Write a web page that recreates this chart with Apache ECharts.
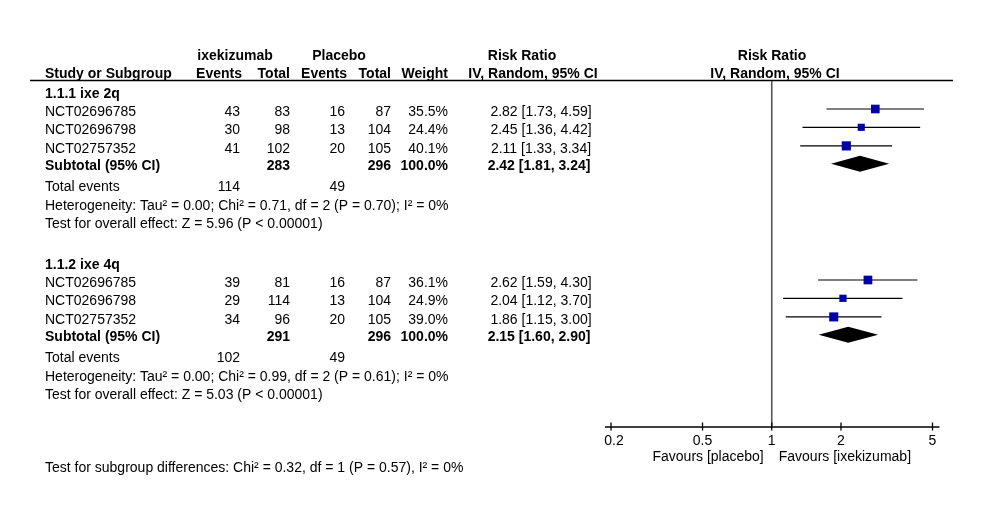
<!DOCTYPE html>
<html>
<head>
<meta charset="utf-8">
<script src="https://cdn.jsdelivr.net/npm/echarts@6/dist/echarts.min.js"></script>
<style>html,body{margin:0;padding:0;background:#fff;}#c{width:986px;height:523px;}</style>
</head>
<body>
<div id="c"></div>
<script>
// ---- data ----
const groupNames = ['1.1.1 ixe 2q', '1.1.2 ixe 4q'];
const studies = ['NCT02696785', 'NCT02696798', 'NCT02757352'];
const ixeEvents = [[43, 30, 41], [39, 29, 34]];
const ixeTotal = [[83, 98, 102], [81, 114, 96]];
const plcEvents = [[16, 13, 20], [16, 13, 20]];
const plcTotal = [[87, 104, 105], [87, 104, 105]];
const weights = [[35.5, 24.4, 40.1], [36.1, 24.9, 39.0]];
const rr = [[2.82, 2.45, 2.11], [2.62, 2.04, 1.86]];
const rrLo = [[1.73, 1.36, 1.33], [1.59, 1.12, 1.15]];
const rrHi = [[4.59, 4.42, 3.34], [4.30, 3.70, 3.00]];
const subIxeTotal = [283, 291];
const subPlcTotal = [296, 296];
const subRR = [2.42, 2.15];
const subLo = [1.81, 1.60];
const subHi = [3.24, 2.90];
const totIxeEvents = [114, 102];
const totPlcEvents = [49, 49];
const heterogeneity = [
  'Heterogeneity: Tau² = 0.00; Chi² = 0.71, df = 2 (P = 0.70); I² = 0%',
  'Heterogeneity: Tau² = 0.00; Chi² = 0.99, df = 2 (P = 0.61); I² = 0%'
];
const overallEffect = [
  'Test for overall effect: Z = 5.96 (P < 0.00001)',
  'Test for overall effect: Z = 5.03 (P < 0.00001)'
];
const subgroupTest = 'Test for subgroup differences: Chi² = 0.32, df = 1 (P = 0.57), I² = 0%';
const tickValues = [0.2, 0.5, 1, 2, 5];
const tickLabels = ['0.2', '0.5', '1', '2', '5'];
const favoursLeft = 'Favours [placebo]';
const favoursRight = 'Favours [ixekizumab]';

// ---- layout (pixels) ----
const FONT = '"Liberation Sans", Arial, sans-serif';
const groupTop = [92.5, 263.5];
const rowOffsets = [18.5, 36.8, 55.4];
const subOff = 72.8, totOff = 93.6, hetOff = 112.4, testOff = 130.8;
const markShift = -2;
const textDy = 1.2;
const colX = {study: 45, ixeEv: 240, ixeTot: 290, plcEv: 345, plcTot: 391, weight: 448, rrCenter: 541};
const axisY = 427;

function fmtW(w) { return w.toFixed(1) + '%'; }
function fmtRR(a, b, c) { return a.toFixed(2) + ' [' + b.toFixed(2) + ', ' + c.toFixed(2) + ']'; }

const texts = [];
function T(str, x, y, align, bold) {
  texts.push({
    type: 'text', silent: true,
    style: {
      text: String(str), x: x, y: y + textDy,
      textAlign: align || 'left', textVerticalAlign: 'middle',
      font: (bold ? 'bold ' : '') + '14px ' + FONT, fill: '#000'
    }
  });
}

// headers
T('ixekizumab', 235, 55, 'center', true);
T('Placebo', 339, 55, 'center', true);
T('Risk Ratio', 522, 55, 'center', true);
T('Risk Ratio', 772, 55, 'center', true);
T('Study or Subgroup', colX.study, 73, 'left', true);
T('Events', 242, 73, 'right', true);
T('Total', 290, 73, 'right', true);
T('Events', 347, 73, 'right', true);
T('Total', 391, 73, 'right', true);
T('Weight', 448, 73, 'right', true);
T('IV, Random, 95% CI', 533, 73, 'center', true);
T('IV, Random, 95% CI', 775, 73, 'center', true);

const studyData = [];
const subData = [];
for (let g = 0; g < groupNames.length; g++) {
  const top = groupTop[g];
  T(groupNames[g], colX.study, top, 'left', true);
  for (let i = 0; i < studies.length; i++) {
    const y = top + rowOffsets[i];
    T(studies[i], colX.study, y, 'left');
    T(ixeEvents[g][i], colX.ixeEv, y, 'right');
    T(ixeTotal[g][i], colX.ixeTot, y, 'right');
    T(plcEvents[g][i], colX.plcEv, y, 'right');
    T(plcTotal[g][i], colX.plcTot, y, 'right');
    T(fmtW(weights[g][i]), colX.weight, y, 'right');
    T(fmtRR(rr[g][i], rrLo[g][i], rrHi[g][i]), colX.rrCenter, y, 'center');
    studyData.push([rr[g][i], rrLo[g][i], rrHi[g][i], y + markShift, weights[g][i]]);
  }
  const ys = top + subOff;
  T('Subtotal (95% CI)', colX.study, ys, 'left', true);
  T(subIxeTotal[g], colX.ixeTot, ys, 'right', true);
  T(subPlcTotal[g], colX.plcTot, ys, 'right', true);
  T('100.0%', colX.weight, ys, 'right', true);
  T(fmtRR(subRR[g], subLo[g], subHi[g]), colX.rrCenter - 2, ys, 'center', true);
  subData.push([subRR[g], subLo[g], subHi[g], ys + markShift + 0.5]);
  const yt = top + totOff;
  T('Total events', colX.study, yt, 'left');
  T(totIxeEvents[g], colX.ixeEv, yt, 'right');
  T(totPlcEvents[g], colX.plcEv, yt, 'right');
  T(heterogeneity[g], colX.study, top + hetOff, 'left');
  T(overallEffect[g], colX.study, top + testOff, 'left');
}
T(subgroupTest, colX.study, 467, 'left');

// header rule
texts.push({type: 'line', silent: true, shape: {x1: 30, y1: 80.5, x2: 953, y2: 80.5},
  style: {stroke: '#000', lineWidth: 1.6}});

const chart = echarts.init(document.getElementById('c'), null, {renderer: 'canvas'});
chart.setOption({
  animation: false,
  backgroundColor: '#fff',
  grid: {left: 611, right: 53.5, top: 80, bottom: 96, containLabel: false},
  xAxis: {type: 'log', logBase: 10, min: 0.2, max: 5, show: false},
  yAxis: {type: 'value', min: 80, max: 427, inverse: true, show: false},
  graphic: texts,
  series: [
    { // axis, ticks, reference line
      type: 'custom', silent: true, clip: false,
      data: tickValues.map((v, i) => [v, i]),
      renderItem: function (params, api) {
        const v = api.value(0), idx = api.value(1);
        const p = api.coord([v, axisY]);
        const children = [
          {type: 'line', shape: {x1: p[0], y1: axisY - 4.5, x2: p[0], y2: axisY + 3.5}, style: {stroke: '#000', lineWidth: 1.3}},
          {type: 'text', style: {text: tickLabels[idx], x: p[0] + (idx === 0 ? 3 : 0), y: axisY + 14.5, textAlign: 'center', textVerticalAlign: 'middle', font: '14px ' + FONT, fill: '#000'}}
        ];
        if (idx === 0) {
          const pl = api.coord([tickValues[0], axisY]);
          const pr = api.coord([tickValues[tickValues.length - 1], axisY]);
          children.push({type: 'line', shape: {x1: pl[0] - 6, y1: axisY, x2: pr[0] + 7, y2: axisY}, style: {stroke: '#000', lineWidth: 1.3}});
          const c1 = api.coord([1, 80.5]);
          children.push({type: 'line', shape: {x1: c1[0], y1: 81, x2: c1[0], y2: axisY}, style: {stroke: '#555', lineWidth: 1.6}});
          children.push({type: 'text', style: {text: favoursLeft, x: c1[0] - 8, y: 457.5, textAlign: 'right', textVerticalAlign: 'middle', font: '14px ' + FONT, fill: '#000'}});
          children.push({type: 'text', style: {text: favoursRight, x: c1[0] + 7, y: 457.5, textAlign: 'left', textVerticalAlign: 'middle', font: '14px ' + FONT, fill: '#000'}});
        }
        return {type: 'group', children: children};
      }
    },
    { // study estimates
      type: 'custom', silent: true,
      data: studyData,
      renderItem: function (params, api) {
        const y = api.value(3);
        const pm = api.coord([api.value(0), y]);
        const pl = api.coord([api.value(1), y]);
        const ph = api.coord([api.value(2), y]);
        const s = 1.45 * Math.sqrt(api.value(4));
        return {type: 'group', children: [
          {type: 'line', shape: {x1: pl[0], y1: pm[1], x2: ph[0], y2: pm[1]}, style: {stroke: '#000', lineWidth: 1.2}},
          {type: 'rect', shape: {x: pm[0] - s / 2, y: pm[1] - s / 2, width: s, height: s}, style: {fill: '#0000a8'}}
        ]};
      }
    },
    { // subtotal diamonds
      type: 'custom', silent: true,
      data: subData,
      renderItem: function (params, api) {
        const y = api.value(3);
        const pm = api.coord([api.value(0), y]);
        const pl = api.coord([api.value(1), y]);
        const ph = api.coord([api.value(2), y]);
        const h = 8;
        return {type: 'polygon', shape: {points: [[pl[0], pm[1]], [pm[0], pm[1] - h], [ph[0], pm[1]], [pm[0], pm[1] + h]]}, style: {fill: '#000'}};
      }
    }
  ]
});
</script>
</body>
</html>
